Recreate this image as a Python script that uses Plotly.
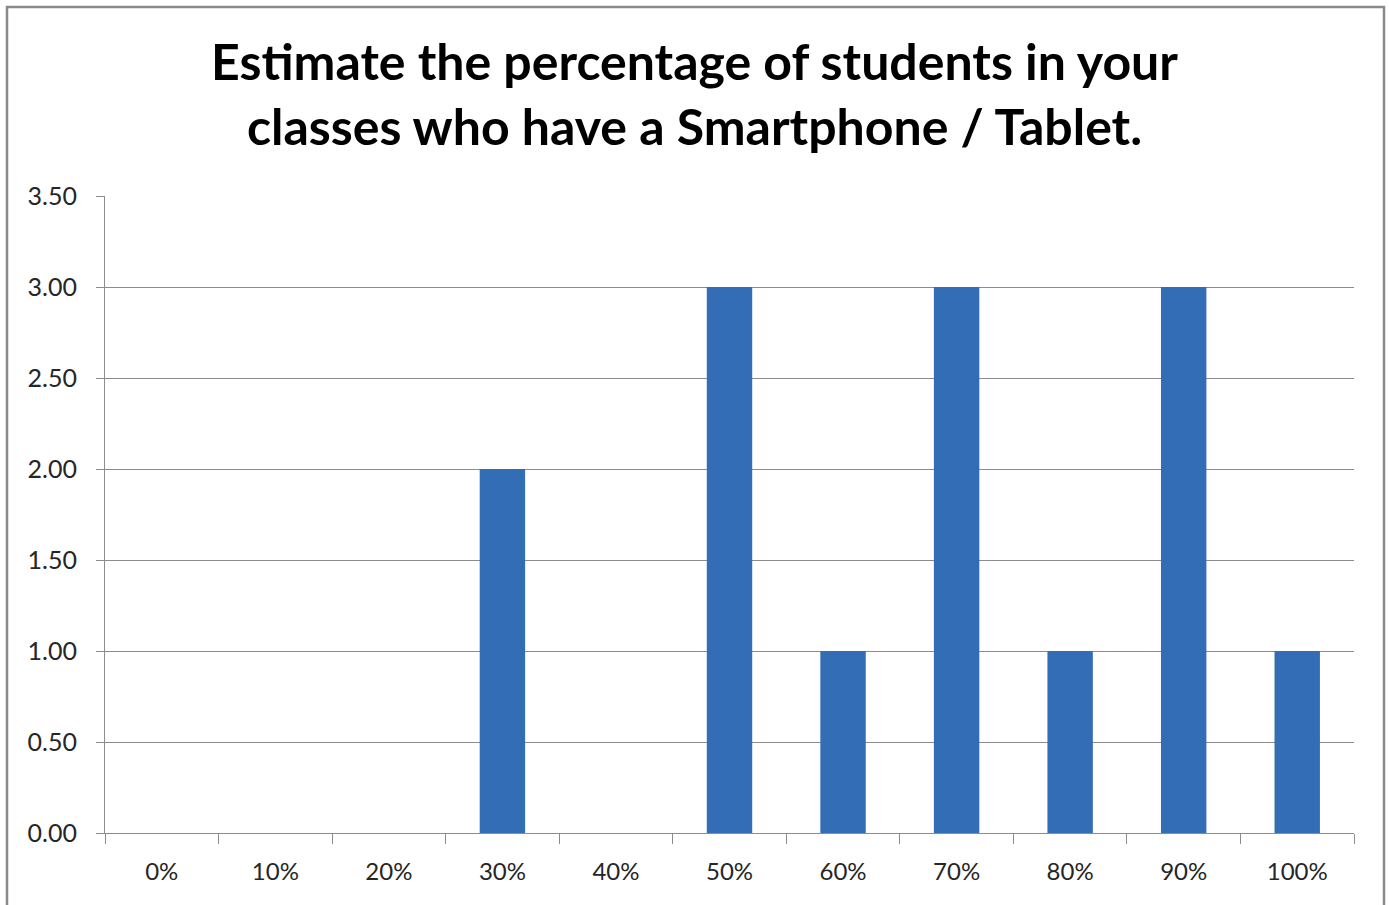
import plotly.graph_objects as go

# Survey responses: estimated share of students owning a smartphone / tablet
categories = ["0%", "10%", "20%", "30%", "40%", "50%", "60%", "70%", "80%", "90%", "100%"]
counts = [0, 0, 0, 2, 0, 3, 1, 3, 1, 3, 1]
y_ticks = [0, 0.5, 1.0, 1.5, 2.0, 2.5, 3.0, 3.5]

GRID = "#8c8c8c"
TEXT = "#262626"

fig = go.Figure()
fig.add_trace(
    go.Bar(
        x=categories,
        y=counts,
        marker=dict(color="#336db5", line=dict(width=0)),
        hoverinfo="x+y",
    )
)

W, H = 1389, 905
L, R, T, B = 105, 35, 196, 72
pw, ph = W - L - R, H - T - B

fig.update_layout(
    width=W,
    height=H,
    margin=dict(l=L, r=R, t=T, b=B),
    paper_bgcolor="white",
    plot_bgcolor="white",
    bargap=0.6,
    showlegend=False,
    title=dict(
        text="Estimate the percentage of students in your<br>classes who have a Smartphone / Tablet.",
        x=0.5,
        xanchor="center",
        y=1 - 80 / H,
        yanchor="middle",
        yref="container",
        font=dict(family="Lato", size=50, color="black", weight="bold"),
    ),
    font=dict(family="Lato", color=TEXT),
)

fig.update_yaxes(
    range=[0, 3.5],
    tickvals=y_ticks,
    tickformat=".2f",
    showgrid=True,
    gridcolor=GRID,
    gridwidth=1,
    showline=True,
    linecolor=GRID,
    linewidth=1,
    ticks="outside",
    ticklen=8,
    tickcolor=GRID,
    tickfont=dict(size=25, color=TEXT),
    zeroline=False,
    ticklabelstandoff=14,
)

fig.update_xaxes(
    type="category",
    showline=True,
    linecolor=GRID,
    linewidth=1,
    ticks="outside",
    tickson="boundaries",
    ticklen=10,
    tickcolor=GRID,
    tickfont=dict(size=24, color=TEXT),
    showgrid=False,
    ticklabelstandoff=17,
)

# Outer frame around the whole chart
fig.add_shape(
    type="rect",
    xref="paper",
    yref="paper",
    x0=(7 - L) / pw,
    x1=(1384 - L) / pw,
    y0=(H - B - 915) / ph,
    y1=(H - B - 7) / ph,
    line=dict(color="#8a8a8a", width=2.5),
    fillcolor="rgba(0,0,0,0)",
    layer="above",
)

fig.write_html("out.html")
